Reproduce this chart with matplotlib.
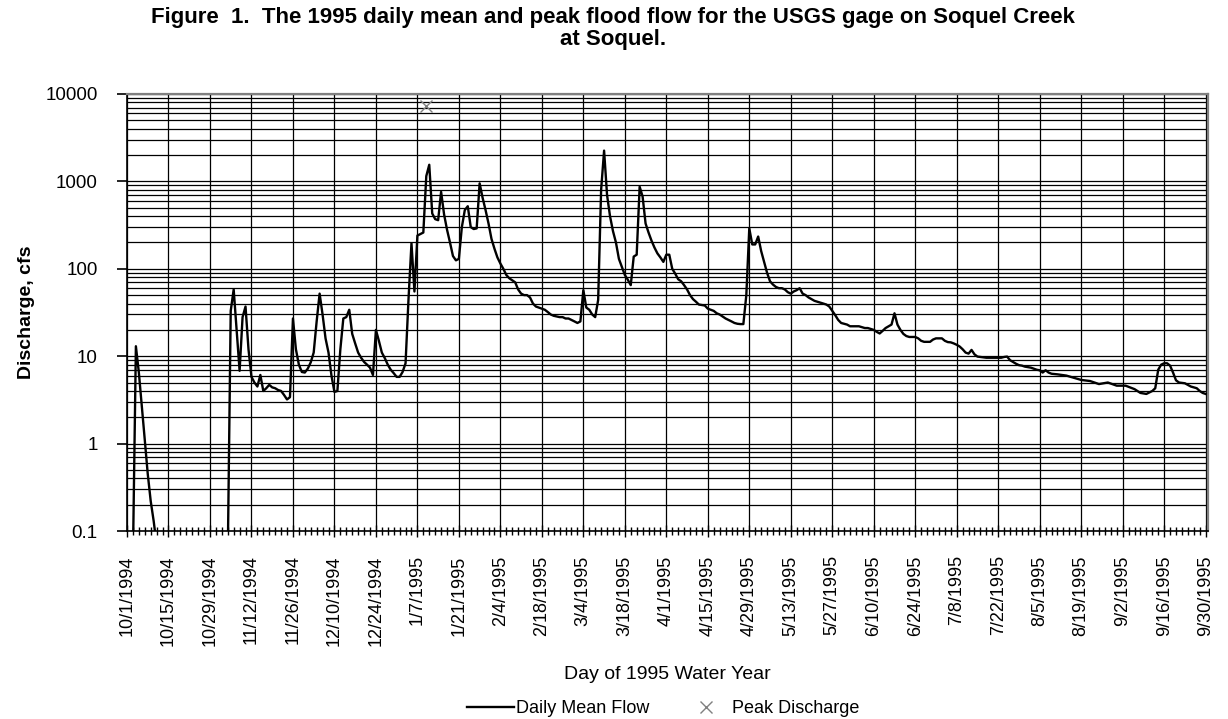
#!/usr/bin/env python3

import numpy as np
import matplotlib as mpl
mpl.use('Agg')
import matplotlib.pyplot as plt
import matplotlib.dates as mdates
from matplotlib.ticker import FixedLocator, FuncFormatter, NullFormatter

mpl.rcParams['font.family'] = ['Liberation Sans', 'DejaVu Sans']

# 1995 water year, daily mean flow (cfs)
water_year_start = np.datetime64('1994-10-01')
flow_day = [
    0, 1, 2, 3, 4, 5, 6, 7, 8, 9, 10, 11, 33, 34, 35, 36, 37, 38, 39, 40,
    41, 42, 43, 44, 45, 46, 47, 48, 49, 50, 51, 52, 53, 54, 55, 56, 57, 58, 59, 60,
    61, 62, 63, 64, 65, 66, 67, 68, 69, 70, 71, 72, 73, 74, 75, 76, 77, 78, 79, 80,
    81, 82, 83, 84, 85, 86, 87, 88, 89, 90, 91, 92, 93, 94, 95, 96, 97, 98, 99, 100,
    101, 102, 103, 104, 105, 106, 107, 108, 109, 110, 111, 112, 113, 114, 115, 116, 117, 118, 119, 120,
    121, 122, 123, 124, 125, 126, 127, 128, 129, 130, 131, 132, 133, 134, 135, 136, 137, 138, 139, 140,
    141, 142, 143, 144, 145, 146, 147, 148, 149, 150, 151, 152, 153, 154, 155, 156, 157, 158, 159, 160,
    161, 162, 163, 164, 165, 166, 167, 168, 169, 170, 171, 172, 173, 174, 175, 176, 177, 178, 179, 180,
    181, 182, 183, 184, 185, 186, 187, 188, 189, 190, 191, 192, 193, 194, 195, 196, 197, 198, 199, 200,
    201, 202, 203, 204, 205, 206, 207, 208, 209, 210, 211, 212, 213, 214, 215, 216, 217, 218, 219, 220,
    221, 222, 223, 224, 225, 226, 227, 228, 229, 230, 231, 232, 233, 234, 235, 236, 237, 238, 239, 240,
    241, 242, 243, 244, 245, 246, 247, 248, 249, 250, 251, 252, 253, 254, 255, 256, 257, 258, 259, 260,
    261, 262, 263, 264, 265, 266, 267, 268, 269, 270, 271, 272, 273, 274, 275, 276, 277, 278, 279, 280,
    281, 282, 283, 284, 285, 286, 287, 288, 289, 290, 293, 295, 296, 297, 298, 299, 300,
    301, 302, 303, 304, 305, 306, 307, 308, 309, 310, 311, 312, 314, 317, 320, 322, 325, 328, 331, 334,
    337, 340, 342, 344, 346, 347, 348, 349, 350, 351, 352, 353, 354, 355, 357, 359, 361, 362, 363, 364,
]
flow_cfs = [
    0.01, 0.01, 0.05, 13, 6.5, 2.7, 1.1, 0.45, 0.22, 0.13, 0.07, 0.01, 0.01, 0.05, 33, 58, 20, 6.8, 28, 37,
    12, 5.8, 5.0, 4.5, 6.1, 4.0, 4.3, 4.7, 4.4, 4.3, 4.1, 4.0, 3.6, 3.2, 3.4, 27, 12, 8.0, 6.6, 6.5,
    7.2, 8.5, 11, 25, 52, 30, 16, 11, 6.0, 3.9, 4.0, 12, 27, 28, 34, 18, 14, 11, 9.6, 8.6,
    8.0, 7.4, 6.1, 20, 15, 11, 9.5, 8.0, 7.0, 6.4, 5.8, 5.8, 6.6, 8.3, 45, 196, 55, 240, 250, 260,
    1150, 1550, 430, 370, 360, 760, 420, 280, 200, 140, 125, 130, 300, 470, 520, 300, 285, 290, 950, 650,
    470, 330, 220, 170, 135, 115, 100, 85, 78, 74, 70, 58, 52, 50, 50, 47, 40, 37, 36, 35,
    34, 32, 30, 29, 28.5, 28, 28, 27, 27, 26, 25, 24, 25, 57, 36, 34, 30, 28, 44, 800,
    2250, 700, 400, 270, 200, 130, 105, 85, 75, 65, 138, 145, 870, 670, 330, 260, 210, 175, 150, 135,
    120, 145, 145, 100, 88, 76, 72, 65, 58, 50, 45, 42, 39, 38.5, 38, 35, 34, 33, 31, 30,
    28.5, 27, 26, 25, 24, 23.5, 23.3, 23.3, 50, 290, 190, 190, 234, 160, 120, 90, 72, 66, 62, 60,
    60, 58, 54, 52, 55, 57, 60, 52, 50, 47, 45, 43, 42, 41, 40, 39, 37, 33, 29.5, 26,
    24, 23.5, 23, 22, 22, 22, 22, 21.5, 21, 21, 20.5, 20, 19, 18.2, 19.5, 21, 22, 23, 31, 23,
    20, 18, 17, 16.6, 16.6, 16.6, 16, 15, 14.6, 14.6, 14.6, 15.5, 16, 16, 16, 15, 14.5, 14.4, 14, 13.5,
    12.9, 12, 11, 10.7, 11.8, 10.5, 9.9, 9.8, 9.7, 9.6, 9.6, 9.6, 9.8, 9.9, 9.0, 8.6, 8.2,
    7.9, 7.8, 7.6, 7.5, 7.4, 7.2, 7.0, 6.9, 6.5, 6.9, 6.5, 6.3, 6.2, 6.0, 5.6, 5.35, 5.2, 4.8, 5.0, 4.6,
    4.6, 4.2, 3.8, 3.7, 4.0, 4.3, 7.0, 8.0, 8.3, 8.3, 7.8, 6.5, 5.3, 5.0, 4.9, 4.5, 4.3, 4.0, 3.8, 3.7,
]

# instantaneous peak discharge
peak_day = [101]
peak_cfs = [7300]

y_ticks = [0.1, 1, 10, 100, 1000, 10000]

title = ('Figure  1.  The 1995 daily mean and peak flood flow for the USGS gage on Soquel Creek\n'
         'at Soquel.')


def day_label(x, pos=None):
    d = mdates.num2date(x)
    return '{}/{}/{}'.format(d.month, d.day, d.year)


def plot_flow(output='out.png'):
    x0 = mdates.date2num(water_year_start)
    flow_x = mdates.date2num(water_year_start + np.array(flow_day, dtype='timedelta64[D]'))
    peak_x = mdates.date2num(water_year_start + np.array(peak_day, dtype='timedelta64[D]'))

    fig = plt.figure(figsize=(12.28, 7.19), dpi=100)
    ax = fig.add_axes([127 / 1228, 1 - 531 / 719, 1081 / 1228, 437 / 719])

    ax.plot(flow_x, flow_cfs, color='black', lw=1.7, label='Daily Mean Flow', zorder=3)
    ax.plot(peak_x, peak_cfs, ls='none', marker='x', ms=9, mew=1.0, color='#808080',
            label='Peak Discharge', zorder=3)

    # axes
    ax.set_yscale('log')
    ax.set_ylim(0.1, 10000)
    ax.set_xlim(x0, x0 + 364.8)

    ax.yaxis.set_major_locator(FixedLocator(y_ticks))
    ax.yaxis.set_major_formatter(FuncFormatter(lambda v, p: '{:g}'.format(v)))
    ax.yaxis.set_minor_locator(mpl.ticker.LogLocator(base=10, subs=np.arange(2, 10)))
    ax.yaxis.set_minor_formatter(NullFormatter())

    ax.xaxis.set_major_locator(FixedLocator(np.arange(x0, x0 + 365, 14)))
    ax.xaxis.set_minor_locator(FixedLocator(np.arange(x0, x0 + 365, 2)))
    ax.xaxis.set_major_formatter(FuncFormatter(day_label))

    ax.tick_params(axis='y', which='major', direction='out', length=7, width=1.2,
                   labelsize=13.5, pad=14)
    ax.tick_params(axis='y', which='minor', length=0)
    ax.tick_params(axis='x', which='major', direction='inout', length=9, width=1.0,
                   labelsize=13, labelrotation=90, pad=13)
    ax.tick_params(axis='x', which='minor', direction='inout', length=6, width=1.0)

    # grid
    ax.grid(True, which='major', color='black', lw=0.9)
    ax.grid(True, which='minor', axis='y', color='black', lw=0.9)
    ax.set_axisbelow(True)

    for side in ['top', 'right']:
        ax.spines[side].set_color('#808080')
        ax.spines[side].set_linewidth(1.6)
    for side in ['left', 'bottom']:
        ax.spines[side].set_color('black')
        ax.spines[side].set_linewidth(1.2)

    # labels
    ax.set_ylabel('Discharge, cfs', fontsize=14, fontweight='bold')
    ax.yaxis.set_label_coords(-0.085, 0.5)
    ax.set_xlabel('Day of 1995 Water Year', fontsize=14)
    ax.xaxis.set_label_coords(0.5, -0.31)
    fig.text(0.499, 0.99, title, ha='center', va='top', fontsize=16, fontweight='bold',
             linespacing=1.05)

    fig.legend(loc='center', bbox_to_anchor=(0.54, 0.014), ncol=2, frameon=False,
               fontsize=13, handlelength=2.6, handletextpad=0.15, columnspacing=1.8)

    fig.savefig(output, dpi=100)


if __name__ == '__main__':
    plot_flow()
